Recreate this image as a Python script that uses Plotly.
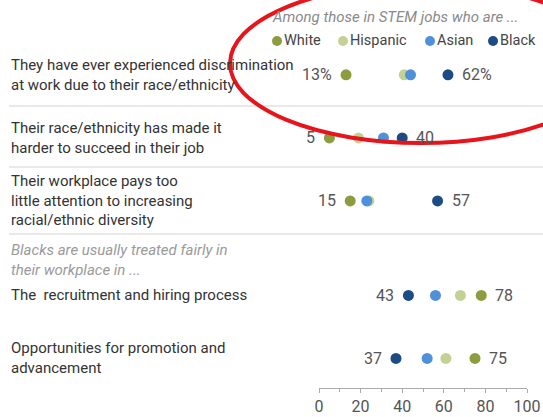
import plotly.graph_objects as go

# ---- data ----
statements = [
    "They have ever experienced discrimination<br>at work due to their race/ethnicity",
    "Their race/ethnicity has made it<br>harder to succeed in their job",
    "Their workplace pays too<br>little attention to increasing<br>racial/ethnic diversity",
    "The  recruitment and hiring process",
    "Opportunities for promotion and<br>advancement",
]
groups = ["White", "Hispanic", "Asian", "Black"]
white = [13, 5, 15, 78, 75]
hispanic = [41, 19, 24, 68, 61]
asian = [44, 31, 23, 56, 52]
black = [62, 40, 57, 43, 37]
x_ticks = [0, 20, 40, 60, 80, 100]
subhead = "Blacks are usually treated fairly in<br>their workplace in ..."
legend_title = "Among those in STEM jobs who are ..."

# ---- layout helpers ----
row_pos = [0, 1, 2, 3.5, 4.5]
colors = {"White": "#8c9d40", "Hispanic": "#c3d195", "Asian": "#4f90da", "Black": "#1d4b83"}
series = {"White": white, "Hispanic": hispanic, "Asian": asian, "Black": black}
FONT = "Roboto"

W, H = 543, 417
ML, MR, MT, MB = 319, 16, 44, 29
PW, PH = W - ML - MR, H - MT - MB

def px_x(px):
    return (px - ML) / PW

def px_y(py):
    return (H - MB - py) / PH

fig = go.Figure()
for g in ["Hispanic", "Asian", "White", "Black"]:
    fig.add_trace(go.Scatter(
        x=series[g], y=row_pos, mode="markers", name=g,
        marker=dict(size=11, color=colors[g], line=dict(width=0)),
        showlegend=False, hoverinfo="x+name",
    ))

annotations = []
# value labels (min on left, max on right)
for i, y in enumerate(row_pos):
    vals = [series[g][i] for g in groups]
    lo, hi = min(vals), max(vals)
    suf = "%" if i == 0 else ""
    annotations.append(dict(x=lo, y=y, xref="x", yref="y", text=f"{lo}{suf}",
                            showarrow=False, xanchor="right", xshift=-12,
                            font=dict(family=FONT, size=16, color="#555")))
    annotations.append(dict(x=hi, y=y, xref="x", yref="y", text=f"{hi}{suf}",
                            showarrow=False, xanchor="left", xshift=12,
                            font=dict(family=FONT, size=16, color="#555")))
# statement labels
for s, y in zip(statements, row_pos):
    annotations.append(dict(x=px_x(9), y=y, xref="paper", yref="y", text=s,
                            showarrow=False, xanchor="left", yanchor="middle", align="left",
                            font=dict(family=FONT, size=15, color="#333")))
# subhead
annotations.append(dict(x=px_x(9), y=px_y(260), xref="paper", yref="paper", text=subhead,
                        showarrow=False, xanchor="left", yanchor="middle", align="left",
                        font=dict(family=FONT, size=15, color="#9a9a9a", style="italic")))
# legend title
annotations.append(dict(x=px_x(270), y=px_y(17), xref="paper", yref="paper", text=legend_title,
                        showarrow=False, xanchor="left", yanchor="middle",
                        font=dict(family=FONT, size=15, color="#8a8a8a", style="italic")))
# manual legend
shapes = []
leg_dot = {"White": 277, "Hispanic": 343, "Asian": 430, "Black": 493}
for g in groups:
    shapes.append(dict(type="circle", xref="paper", yref="paper",
                       xsizemode="pixel", ysizemode="pixel",
                       xanchor=px_x(leg_dot[g]), yanchor=px_y(41),
                       x0=-5, x1=5, y0=-5, y1=5,
                       fillcolor=colors[g], line=dict(width=0)))
    annotations.append(dict(x=px_x(leg_dot[g] + 5), y=px_y(41), xref="paper", yref="paper",
                            text=g, showarrow=False, xanchor="left", yanchor="middle",
                            font=dict(family=FONT, size=14.5, color="#444")))

for py in [106, 167, 234]:
    shapes.append(dict(type="line", xref="paper", yref="paper", x0=px_x(9), x1=px_x(543),
                       y0=px_y(py), y1=px_y(py), line=dict(color="#e2e2e2", width=1.5)))
# red highlight ellipse
shapes.append(dict(type="circle", xref="paper", yref="paper",
                   x0=px_x(230), x1=px_x(612), y0=px_y(143), y1=px_y(-16),
                   line=dict(color="#e8141c", width=4)))

fig.update_layout(
    width=W, height=H,
    margin=dict(l=ML, r=MR, t=MT, b=MB, pad=0, autoexpand=False),
    paper_bgcolor="white", plot_bgcolor="white",
    xaxis=dict(range=[0, 100], tickvals=x_ticks, showgrid=False, zeroline=False,
               showline=True, linecolor="#aaa", linewidth=1, ticks="outside",
               ticklen=4, tickcolor="#aaa",
               minor=dict(dtick=10, ticks="outside", ticklen=3, tickcolor="#aaa"),
               tickfont=dict(family=FONT, size=16, color="#555"), fixedrange=True),
    yaxis=dict(range=[4.97, -0.49], visible=False, showgrid=False, zeroline=False, fixedrange=True),
    annotations=annotations, shapes=shapes, showlegend=False,
)

fig.write_html("out.html", config={"displayModeBar": False},
               post_script="document.body.style.margin='0px';document.body.style.overflow='hidden';")
